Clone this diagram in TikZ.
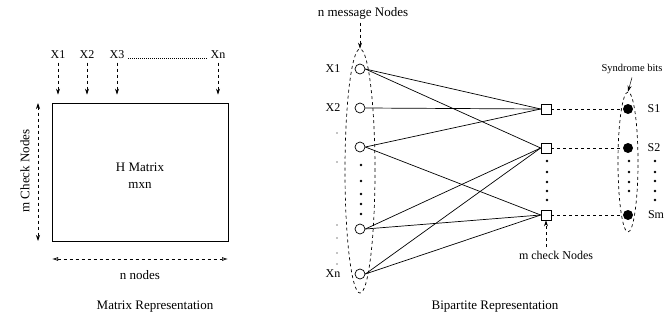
\documentclass[tikz,border=0pt]{standalone}
\usepackage{fontspec}
\setmainfont{Liberation Serif}
\usetikzlibrary{arrows.meta,shapes.geometric}

\begin{document}
\begin{tikzpicture}[x=1pt, y=-1pt, line width=0.7pt, font=\fontsize{13}{17}\selectfont,
    msgnode/.style={circle, draw, minimum size=10pt, inner sep=0pt},
    checknode/.style={rectangle, draw, fill=white, minimum size=10pt, inner sep=0pt},
    synnode/.style={circle, fill, minimum size=10pt, inner sep=0pt},
    lbl/.style={font=\fontsize{12}{14}\selectfont},
    dashline/.style={dash pattern=on 3pt off 3pt},
    tip/.style={-{Stealth[length=6pt, width=4pt]}}]

    \useasboundingbox (0,0) rectangle (667,324);

    % matrix representation
    \node[draw, minimum width=176pt, minimum height=138pt] (hmat) at (140,172) {};
    \node[align=center] (hlbl) at (140,176) {H Matrix\\mxn};

    \node[lbl] (x1) at (58,55) {X1};
    \node[lbl] (x2) at (87,55) {X2};
    \node[lbl] (x3) at (117,55) {X3};
    \node[lbl] (xn) at (218,55) {Xn};
    \draw[dash pattern=on 0.8pt off 1.2pt, line width=0.8pt] ([yshift=0.5pt]x3.base east) -- ([yshift=0.5pt]xn.base west);
    \foreach \v in {x1,x2,x3,xn}
        \draw[dashline, tip, shorten >=8pt] (\v.south) -- (\v |- hmat.north);

    \coordinate (mtop) at (38,103);
    \coordinate (mbot) at (38,241);
    \draw[dashline, {Stealth[length=6pt, width=4pt]}-{Stealth[length=6pt, width=4pt]}] (mtop) -- (mbot);
    \node[rotate=90] (mlbl) at (25,171) {m Check Nodes};

    \coordinate (nleft) at (52,259);
    \coordinate (nright) at (228,259);
    \draw[dashline, {Latex[open, length=6pt, width=4pt]}-{Latex[open, length=6pt, width=4pt]}] (nleft) -- (nright);
    \node (nlbl) at (140,275) {n nodes};

    \node (cap1) at (155,307) {Matrix Representation};

    % bipartite representation
    \node[ellipse, draw, dashline, minimum width=30pt, minimum height=244pt, inner sep=0pt] (msgset) at (360,171) {};
    \node[ellipse, draw, dashline, minimum width=20pt, minimum height=140pt, inner sep=0pt] (synset) at (628,162) {};

    \node[msgnode] (m1) at (360,69) {};
    \node[msgnode] (m2) at (360,108) {};
    \node[msgnode] (m3) at (360,147) {};
    \node[msgnode] (m4) at (360,229) {};
    \node[msgnode] (m5) at (360,274) {};

    \node[lbl] (lx1) at (333,69) {X1};
    \node[lbl] (lx2) at (333,108) {X2};
    \node[lbl] (lxn) at (333,274) {Xn};
    \foreach \y in {133,162,225,238,253,264}
        \fill (337,\y) circle (0.6pt);
    \foreach \y in {165,181,194,204,214}
        \fill (361,\y) circle (1.3pt);

    \node[checknode] (c1) at (546,109) {};
    \node[checknode] (c2) at (546,148) {};
    \node[checknode] (c3) at (546,215) {};
    \foreach \y in {161,172,182,191,200}
        \fill (547,\y) circle (1.3pt);

    \node[synnode] (s1) at (628,109) {};
    \node[synnode] (s2) at (628,148) {};
    \node[synnode] (s3) at (628,215) {};
    \foreach \y in {161,172,182,191}
        \fill (629,\y) circle (1.3pt);

    \node[lbl] (ls1) at (654,109) {S1};
    \node[lbl] (ls2) at (654,148) {S2};
    \node[lbl] (ls3) at (656,215) {Sm};
    \foreach \y in {161,172,181,191,200}
        \fill (655,\y) circle (1.3pt);

    \draw (m1.east) -- (c1.west);
    \draw (m1.east) -- (c2.west);
    \draw (m2.east) -- (c1.west);
    \draw (m3.east) -- (c1.west);
    \draw (m3.east) -- (c3.west);
    \draw (m4.east) -- (c2.west);
    \draw (m4.east) -- (c3.west);
    \draw (m5.east) -- (c2.west);
    \draw (m5.east) -- (c3.west);

    \draw[dashline] (c1) -- (s1);
    \draw[dashline] (c2) -- (s2);
    \draw[dashline] (c3) -- (s3);

    \node (msglbl) at (363,13) {n message Nodes};
    \draw[dashline, tip] (msglbl.south -| msgset.north) -- (msgset.north);

    \node[font=\fontsize{10.5}{12}\selectfont] (synlbl) at (632,69) {Syndrome bits};
    \draw[tip, line width=0.5pt] (synlbl.south) -- (synset.north);

    \node[lbl] (chklbl) at (556,255) {m check Nodes};
    \draw[dashline, tip] (chklbl.north -| c3.south) -- (c3.south);

    \node (cap2) at (495,307) {Bipartite Representation};

\end{tikzpicture}
\end{document}
